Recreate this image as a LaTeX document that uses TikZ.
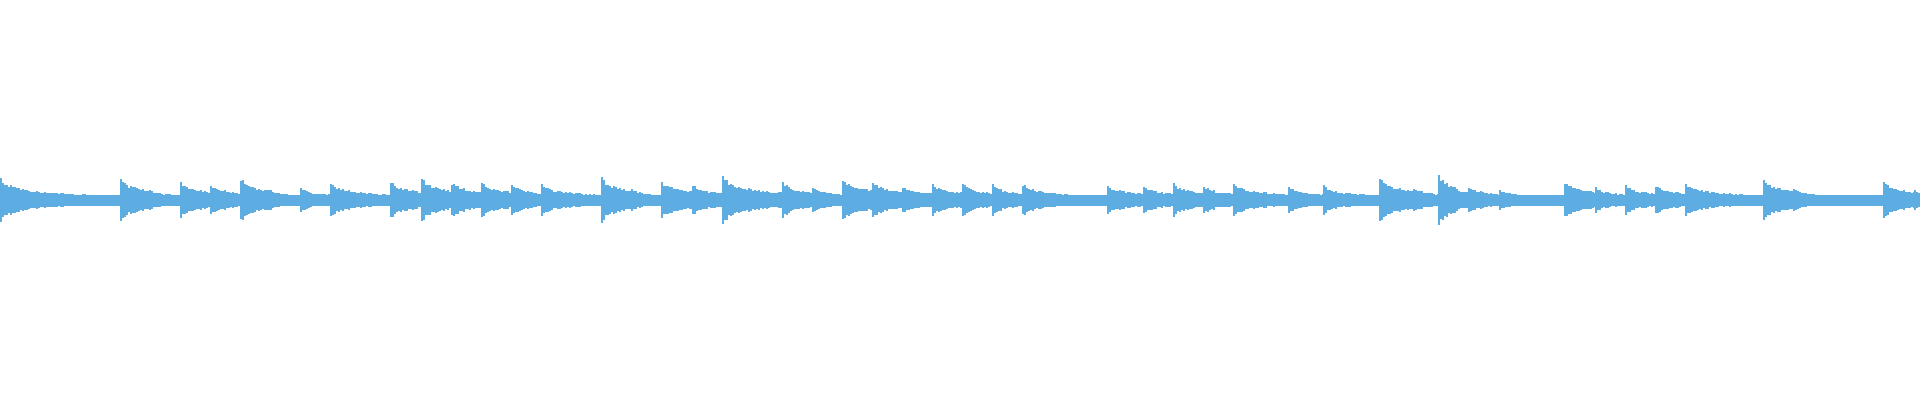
\documentclass[tikz,border=0pt]{standalone}
\definecolor{wave}{HTML}{5DADE2}
\begin{document}
\begin{tikzpicture}[x=1pt,y=1pt]
\useasboundingbox (0,0) rectangle (1920,400);
\pgfmathsetseed{7}
\fill[wave] (0,195) rectangle (1920,205);
\foreach \s/\e/\a in {0/120/23,120/149/22,149/180/11,180/210/19,210/240/17,240/270/23,270/300/11,300/330/13,330/390/18,390/421/20,
421/451/22,451/481/19,481/511/19,511/541/16,541/601/17,601/631/23,631/661/11,661/692/20,692/722/16,722/782/25,782/812/19,
812/842/14,842/872/23,872/902/19,902/932/15,932/962/17,962/992/17,992/1022/16,1022/1107/17,1107/1143/16,1143/1173/15,1173/1203/17,
1203/1233/15,1233/1288/18,1288/1323/14,1323/1379/15,1379/1413/23,1413/1438/13,1438/1456/25,1456/1468/12,1468/1499/14,1499/1564/11,1564/1595/20,1595/1625/13,
1625/1655/15,1655/1685/16,1685/1763/18,1763/1793/22,1793/1883/12,1883/1914/19,1914/1920/10}{
  \pgfmathtruncatemacro{\d}{\e-\s-1}
  \ifnum\d<0 \def\d{0}\fi
  \foreach \t in {0,2,...,\d}{
    \pgfmathsetmacro{\h}{max(\a*(0.3*exp(-\t/6)+0.45*exp(-\t/40)+0.25*exp(-\t/300))*(0.8+0.2*rnd),5.5)}
    \fill[wave] (\s+\t,200-\h) rectangle (\s+\t+2.2,200+\h);
  }
}
\end{tikzpicture}
\end{document}
